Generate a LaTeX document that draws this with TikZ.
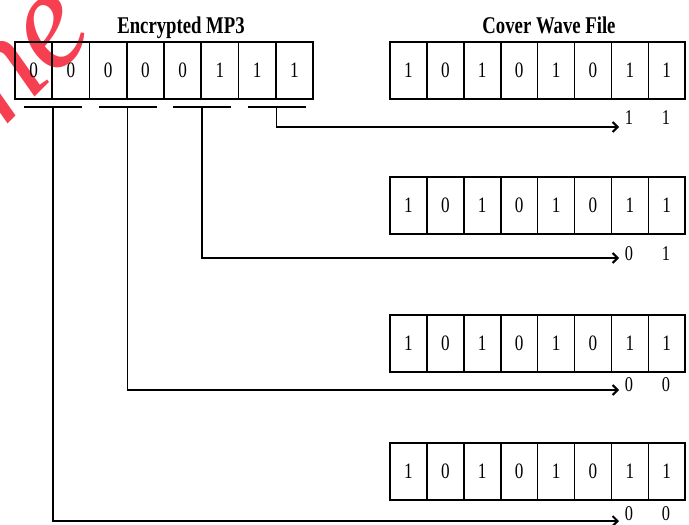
\documentclass[tikz,border=0pt]{standalone}
\usepackage{fontspec}
\setmainfont{Liberation Serif}
\newfontfamily\narrowfont[FakeStretch=0.78]{Liberation Serif}
\usetikzlibrary{positioning, arrows.meta, calc}
\definecolor{markred}{RGB}{245, 30, 50}

\begin{document}
\begin{tikzpicture}[x=1pt, y=-1pt,
  bitcell/.style={draw, line width=1.6pt, minimum height=57pt, inner sep=0pt, font=\narrowfont\fontsize{22}{22}\selectfont},
  title/.style={anchor=base, font=\narrowfont\bfseries\fontsize{24}{24}\selectfont},
  outbit/.style={inner sep=0pt, font=\narrowfont\fontsize{21}{21}\selectfont},
  bar/.style={line width=2.2pt},
  flow/.style={line width=1.8pt, -{Straight Barb[length=5pt, width=10pt, line width=2pt]}},
  watermark/.style={text=markred, opacity=0.85, rotate=45, font=\itshape\fontsize{140}{140}\selectfont}]
 \useasboundingbox (0,0) rectangle (689,525);
 \node[watermark] (wm) at (28,58) {ne};
 \node[title] (mptitle) at (181,33) {Encrypted MP3};
 \node[title] (cwtitle) at (549,33) {Cover Wave File};
 \foreach \b [count=\i] in {0,0,0,0,0,1,1,1}
  \node[bitcell, minimum width=37.25pt] (mp\i) at ({15+37.25*(\i-0.5)}, 70.5) {\b};
 \foreach \y [count=\r] in {70.5, 205.5, 343.5, 471.5}
  \foreach \b [count=\i] in {1,0,1,0,1,0,1,1}
   \node[bitcell, minimum width=36.9pt] (cw\r-\i) at ({390+36.9*(\i-0.5)}, \y) {\b};
 \foreach \k in {1,...,4} {
  \pgfmathtruncatemacro\c{2*\k-1}
  \coordinate (u\k) at ($(mp\c.south east)+(0,7)$);
  \draw[bar] ($(u\k)+(-29,0)$) -- ($(u\k)+(29,0)$);
 }
 \foreach \r/\ay/\ly/\p/\q/\k in {1/127/118/1/1/4, 2/258/254/0/1/3, 3/390/385/0/0/2, 4/521/514/0/0/1} {
  \node[outbit] (ob\r-a) at (629,\ly) {\p};
  \node[outbit] (ob\r-b) at (666,\ly) {\q};
  \coordinate (tip\r) at (619,\ay);
  \draw[flow] (u\k) |- (tip\r);
 }
\end{tikzpicture}
\end{document}
